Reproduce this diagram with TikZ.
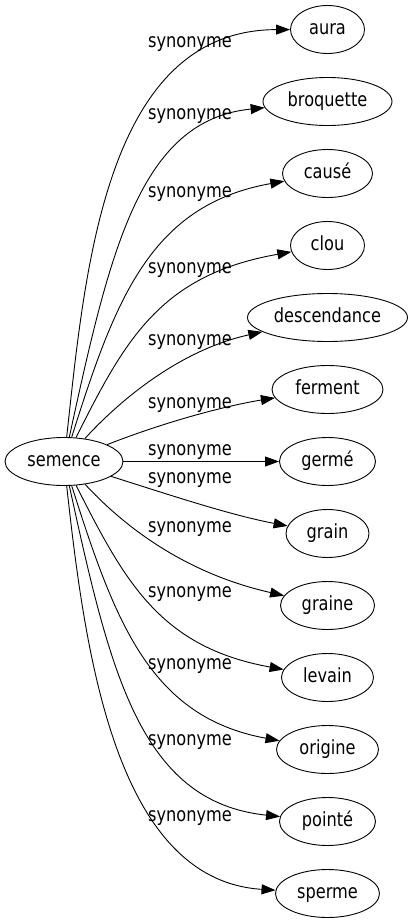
\documentclass[tikz,border=0pt]{standalone}
\usepackage{fontspec}
\setmainfont{DejaVu Sans}[FakeStretch=0.83]
\usetikzlibrary{shapes.geometric,arrows.meta}

\begin{document}
\begin{tikzpicture}[x=1bp,y=-1bp,
  font=\fontsize{19.5bp}{22bp}\selectfont,
  word/.style={draw,ellipse,line width=0.9bp,inner sep=0pt,minimum height=48bp,text height=15bp,text depth=4.4bp},
  rel/.style={->,line width=0.9bp,>={Triangle[length=14bp,width=10bp]}},
  relname/.style={anchor=base west,inner sep=0pt}]
\useasboundingbox (0,0) rectangle (413,923);
\newcommand{\synlist}{aura/aura/74/29.5/85/270/105/30/47,
  broquette/broquette/129/101.5/110/250/140/120/119,
  cause/causé/90/173.5/115/300/150/205/197,
  clou/clou/74/245.5/125/340/160/275/273,
  descendance/descendance/160/317.5/120/400/180/350/345,
  ferment/ferment/111/389.5/170/420/230/405/408,
  germe/germé/96/461.5/150/461.5/230/461.5/455,
  grain/grain/83/533.5/170/495/230/515/483,
  graine/graine/94/605.5/120/522/180/572/532,
  levain/levain/92/677.5/125/582/160/647/597,
  origine/origine/102/749.5/115/622/150/717/669,
  pointe/pointé/96/821.5/110/672/140/802/745,
  sperme/sperme/104/893.5/85/652/115/880/821}

\node[word,minimum width=118bp] (semence) at (64,461.5) {semence};

\foreach \n / \word / \w / \y / \ax / \ay / \bx / \by / \ly in \synlist {
  \node[word,minimum width=\w bp] (\n) at (327.5,\y) {\word};
  \draw[rel] (semence) .. controls (\ax,\ay) and (\bx,\by) .. (\n);
  \node[relname] (l\n) at (148,\ly) {synonyme};
}
\end{tikzpicture}
\end{document}
